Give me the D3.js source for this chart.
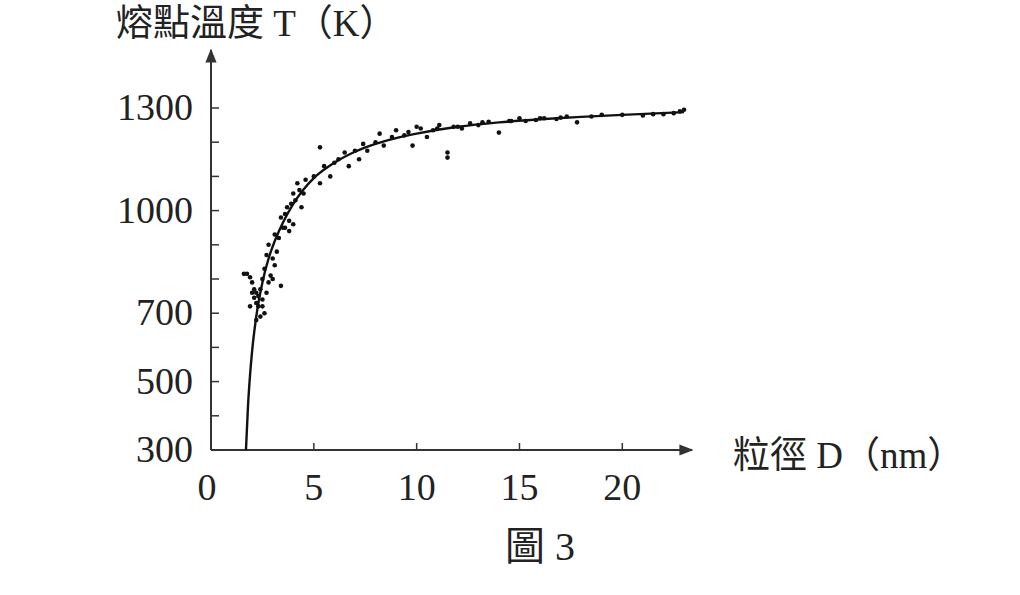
<!DOCTYPE html>
<html lang="zh-Hant">
<head>
<meta charset="UTF-8">
<script src="https://d3js.org/d3.v7.min.js"></script>
<style>
  body { margin: 0; background: #fff; }
  text { font-family: "Liberation Serif", "Noto Sans CJK TC", serif; fill: #222; }
</style>
</head>
<body>
<svg id="chart" width="1020" height="595"></svg>
<script>
// ticks
const yTicks = [300, 500, 700, 1000, 1300];
const yMinor = [400, 600, 800, 900, 1100, 1200];
const xTicks = [0, 5, 10, 15, 20];

// fitted curve [D, T]
const curveD = [1.7, 1.8, 1.9, 2.0, 2.2, 2.5, 2.8, 3.0, 3.5, 4.0, 4.5, 5.0, 6.0, 7.0, 8.0, 9.0, 10, 12, 14, 16, 18, 20, 23];
const curveT = [300, 430, 520, 590, 690, 790, 860, 895, 965, 1020, 1062, 1095, 1140, 1172, 1195, 1212, 1225, 1245, 1258, 1267, 1274, 1280, 1288];

// scatter points [D, T]
const pointsD = [1.6,1.75,1.9,2.0,2.1,2.2,2.0,2.3,2.1,2.4,2.2,2.5,2.3,1.9,2.6,2.4,2.2,2.7,2.5,2.8,2.6,2.9,3.0,3.1,2.7,3.0,3.2,2.8,3.3,3.1,3.5,3.4,3.6,3.8,3.7,3.9,4.1,4.0,4.3,4.5,4.2,4.6,3.6,3.8,2.5,3.4,4.0,4.4,5.0,5.3,5.5,5.8,5.3,6.2,6.0,6.7,7.2,7.6,8.0,8.4,8.8,6.5,7.0,7.4,8.2,9.0,9.4,9.8,10.2,10.5,10.8,11.1,11.5,11.5,11.8,12.2,12.6,13.0,13.5,14.0,14.5,15.0,15.3,15.8,16.2,16.8,17.3,17.8,18.5,20.0,21.0,22.0,22.5,22.8,23.0,9.6,10.0,11.0,12.0,13.2,14.6,16.0,17.0,19.0,21.5];
const pointsT = [815,815,805,790,770,760,760,750,745,770,730,740,720,720,700,690,680,760,800,790,830,810,800,840,870,860,880,900,920,930,950,980,990,970,1010,1020,1030,1050,1060,1050,1080,1090,950,940,720,780,960,1010,1100,1080,1130,1100,1185,1150,1140,1130,1150,1175,1200,1190,1215,1170,1175,1195,1225,1235,1220,1190,1240,1215,1235,1250,1170,1155,1245,1240,1255,1250,1260,1228,1262,1270,1262,1265,1270,1268,1275,1258,1275,1280,1278,1282,1285,1290,1295,1230,1245,1240,1245,1258,1262,1270,1272,1280,1282];

const svg = d3.select("#chart");
const x = d3.scaleLinear().domain([0, 23]).range([211, 684]);
const y = d3.scaleLinear().domain([300, 1300]).range([450, 108]);

// axes lines with arrows
svg.append("defs").append("marker")
  .attr("id", "arr").attr("viewBox", "0 0 10 10").attr("refX", 9).attr("refY", 5)
  .attr("markerWidth", 7).attr("markerHeight", 7).attr("orient", "auto")
  .append("path").attr("d", "M0,1 L10,5 L0,9 Z").attr("fill", "#333");

svg.append("line").attr("x1", 211).attr("y1", 450).attr("x2", 211).attr("y2", 50)
  .attr("stroke", "#333").attr("stroke-width", 2).attr("marker-end", "url(#arr)");
svg.append("line").attr("x1", 211).attr("y1", 450).attr("x2", 692).attr("y2", 450)
  .attr("stroke", "#333").attr("stroke-width", 2).attr("marker-end", "url(#arr)");

// y ticks
svg.selectAll(".yt").data(yTicks.concat(yMinor)).join("line")
  .attr("x1", 211).attr("x2", 219).attr("y1", d => y(d)).attr("y2", d => y(d))
  .attr("stroke", "#333").attr("stroke-width", 1.5);
svg.selectAll(".yl").data(yTicks).join("text")
  .attr("x", 193).attr("y", d => y(d) + 12).attr("text-anchor", "end")
  .style("font-size", "38px").text(d => d);

// x ticks
svg.selectAll(".xt").data(xTicks.slice(1)).join("line")
  .attr("x1", d => x(d)).attr("x2", d => x(d)).attr("y1", 450).attr("y2", 443)
  .attr("stroke", "#333").attr("stroke-width", 1.5);
svg.selectAll(".xl").data(xTicks).join("text")
  .attr("x", d => x(d) - (d === 0 ? 4 : 0)).attr("y", 500).attr("text-anchor", "middle")
  .style("font-size", "38px").text(d => d);

// curve
const curve = curveD.map((d, i) => [d, curveT[i]]);
svg.append("path").datum(curve)
  .attr("d", d3.line().x(d => x(d[0])).y(d => y(d[1])).curve(d3.curveMonotoneX))
  .attr("fill", "none").attr("stroke", "#111").attr("stroke-width", 2.4);

// points
svg.selectAll(".pt").data(pointsD.map((d, i) => [d, pointsT[i]])).join("circle")
  .attr("cx", d => x(d[0])).attr("cy", d => y(d[1])).attr("r", 2.3).attr("fill", "#111");

// labels
svg.append("text").attr("x", 116).attr("y", 36).style("font-size", "37px").text("熔點溫度 T（K）");
svg.append("text").attr("x", 733).attr("y", 468).style("font-size", "37px").text("粒徑 D（nm）");
svg.append("text").attr("x", 540).attr("y", 560).attr("text-anchor", "middle").style("font-size", "40px").text("圖 3");
</script>
</body>
</html>
